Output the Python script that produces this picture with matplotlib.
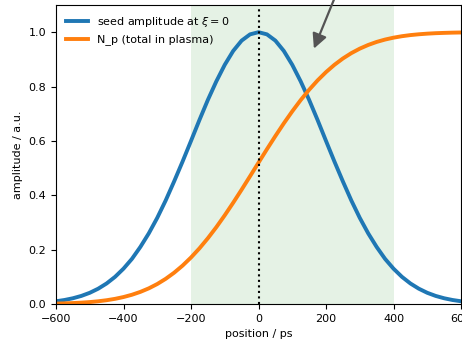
import matplotlib
matplotlib.use("Agg")
import matplotlib.pyplot as plt

# positions in ps, one sample every 25 ps
position_ps = list(range(-600, 601, 25))

seed_half = [1.000, 0.992, 0.969, 0.931, 0.880, 0.819, 0.751, 0.677, 0.600,
             0.524, 0.451, 0.381, 0.317, 0.260, 0.210, 0.166, 0.130, 0.0999,
             0.0756, 0.0563, 0.0412, 0.0297, 0.0211, 0.0147, 0.0101]
seed_amplitude = seed_half[:0:-1] + seed_half

n_plasma = [0.0016, 0.0024, 0.0035, 0.0050, 0.0071, 0.0100, 0.0139, 0.0190,
            0.0256, 0.0340, 0.0446, 0.0576, 0.0735, 0.0926, 0.1151, 0.1412,
            0.1711, 0.2047, 0.2420, 0.2826, 0.3264, 0.3726, 0.4207, 0.4701,
            0.5199, 0.5695, 0.6179, 0.6646, 0.7088, 0.7502, 0.7881, 0.8225,
            0.8531, 0.8800, 0.9032, 0.9229, 0.9394, 0.9530, 0.9641, 0.9729,
            0.9798, 0.9852, 0.9893, 0.9923, 0.9946, 0.9963, 0.9974, 0.9983,
            0.9989]

window_start, window_end = -200, 400

plt.rcParams["font.size"] = 8

fig = plt.figure(figsize=(4.62, 3.46), dpi=100)
ax = fig.add_axes([56 / 462, 42 / 346, 405 / 462, 299 / 346])

ax.axvspan(window_start, window_end, color="green", alpha=0.1, lw=0)
ax.plot(position_ps, seed_amplitude, lw=2.8, label=r"seed amplitude at $\xi = 0$")
ax.plot(position_ps, n_plasma, lw=2.8, label="N_p (total in plasma)")
ax.axvline(0, color="black", ls=":", lw=1.5)

ax.annotate("", xy=(161, 0.93), xytext=(250, 1.2),
            arrowprops=dict(arrowstyle="-|>", color="0.33", lw=1.6,
                            mutation_scale=22),
            annotation_clip=False)

ax.set_xlim(-600, 600)
ax.set_ylim(0, 1.1)
ax.set_yticks([0.0, 0.2, 0.4, 0.6, 0.8, 1.0])
ax.set_xlabel("position / ps")
ax.set_ylabel("amplitude / a.u.")
ax.legend(loc="upper left", frameon=False)

fig.savefig("out.png", dpi=100)
